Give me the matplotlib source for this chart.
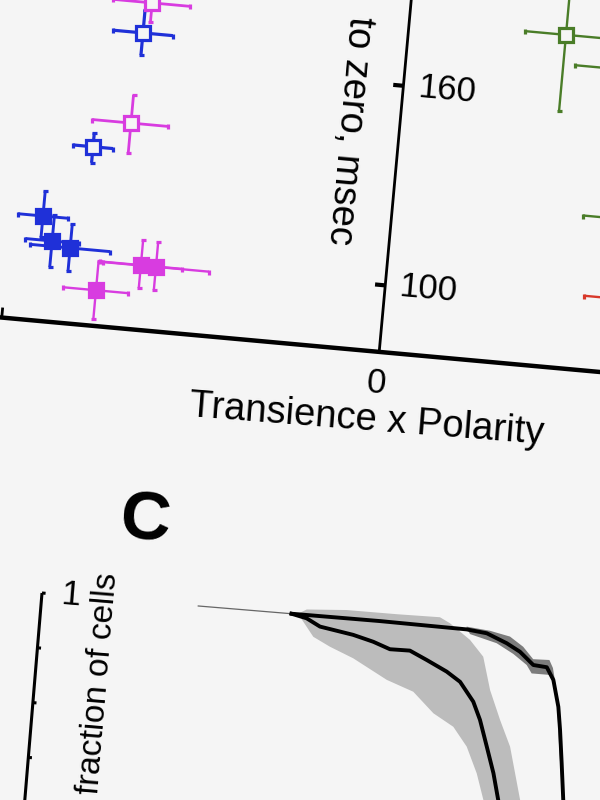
import matplotlib
matplotlib.use("Agg")
import matplotlib.pyplot as plt
from matplotlib.transforms import Affine2D

plt.rcParams['font.family'] = ['Liberation Sans', 'DejaVu Sans']

BG = "#f5f5f5"
BLUE = "#1f30d8"
MAGENTA = "#d83ce0"
GREEN = "#4a7d28"
RED = "#d8382a"

## panel B : transience x polarity vs time to zero (msec)
blue_open_x = [0.697, 0.801]
blue_open_y = [168.7, 133.4]
blue_open_xerr = [[0.079, 0.053], [0.079, 0.053]]
blue_open_yerr = [[6.6, 4.8], [6.9, 4.2]]

blue_fill_x = [0.916, 0.886, 0.837]
blue_fill_y = [111.4, 104.2, 102.6]
blue_fill_xerr = [[0.066, 0.071, 0.106], [0.066, 0.071, 0.106]]
blue_fill_yerr = [[6.3, 7.8, 6.9], [7.5, 7.8, 7.2]]

mag_open_x = [0.680, 0.707]
mag_open_y = [177.9, 141.5]
mag_open_xerr = [[0.100, 0.098], [0.103, 0.103]]
mag_open_yerr = [[5.7, 9.0], [8.4, 8.4]]

mag_fill_x = [0.759, 0.647, 0.607]
mag_fill_y = [90.7, 99.4, 99.3]
mag_fill_xerr = [[0.084, 0.108, 0.14], [0.087, 0.108, 0.14]]
mag_fill_yerr = [[8.7, 6.9, 6.9], [8.7, 7.5, 7.5]]

green_x = [-0.415, -0.587, -0.633]
green_y = [179.6, 170.8, 126.2]
green_xerr = [[0.108, 0.142, 0.13], [0.108, 0.142, 0.13]]
green_yerr = [[23, 10, 10], [23, 10, 10]]

red_x = [-0.652]
red_y = [102.3]
red_xerr = [[0.127], [0.127]]
red_yerr = [[8], [8]]

b_yticks = [100, 160]
b_xticks = [1]
b_xticklabels = ["0"]

## panel C : fraction of cells vs time
thin_t = [78.4, 125.2]
thin_f = [1.0, 1.0]

fast_t = [125.2, 132.9, 139.9, 156.8, 167.1, 175.7, 185.7, 194.5, 204.9, 212.0, 219.4, 223.5, 228.0, 232.4, 235.9, 239.0]
fast_f = [1.0, 0.988, 0.962, 0.942, 0.923, 0.901, 0.902, 0.873, 0.837, 0.804, 0.736, 0.672, 0.577, 0.483, 0.387, 0.30]
slow_t = [125.2, 169.5, 213.1, 223.3, 233.6, 240.6, 247.8, 254.6, 258.4, 262.0, 263.8, 266.0, 268.3, 271.0]
slow_f = [1.0, 1.0, 0.996, 0.988, 0.958, 0.931, 0.887, 0.883, 0.839, 0.743, 0.660, 0.539, 0.407, 0.30]

fast_hi_t = [128.0, 132.6, 152.5, 177.6, 199.3, 204.6, 215.2, 222.5, 227.3, 233.5, 239.6, 246.8, 250.0]
fast_hi_f = [1.0, 1.02, 1.03, 1.03, 1.032, 1.013, 0.959, 0.902, 0.783, 0.678, 0.584, 0.394, 0.28]
fast_lo_t = [128.0, 129.5, 137.0, 145.7, 157.8, 175.4, 189.1, 200.0, 210.5, 218.0, 224.1, 228.5, 232.0]
fast_lo_f = [1.0, 0.992, 0.923, 0.892, 0.857, 0.789, 0.754, 0.682, 0.639, 0.571, 0.477, 0.383, 0.28]

slow_hi_t = [213.0, 224.8, 235.0, 242.0, 247.5, 255.6, 257.7, 262.5, 265.0, 268.0, 271.5]
slow_hi_f = [1.006, 0.998, 0.983, 0.950, 0.908, 0.910, 0.882, 0.74, 0.60, 0.45, 0.30]
slow_lo_t = [213.0, 215.0, 228.6, 237.4, 244.5, 247.3, 256.5, 258.9, 261.5, 264.0, 267.0, 270.0]
slow_lo_f = [1.0, 0.980, 0.955, 0.921, 0.885, 0.856, 0.856, 0.821, 0.74, 0.60, 0.45, 0.30]

c_yticks = [1.0, 0.8, 0.6, 0.4, 0.2]


fig = plt.figure(figsize=(6, 8), dpi=100, facecolor=BG)
ax = fig.add_axes([0, 0, 1, 1])
ax.set_facecolor(BG)
ax.axis('off')

# the photographed page is mirrored and a bit tilted: one frame per panel
trB = Affine2D().translate(0, -80).scale(-379, -3.34).rotate_deg(5.2).translate(379.2, 351.9) + ax.transData
trC = Affine2D().translate(0, -1).scale(2.0, -275).rotate_deg(4.75).translate(42, 593) + ax.transData

## panel B
ax.plot([1.1, -0.75], [80, 80], color='k', lw=3.2, solid_capstyle='butt', transform=trB)
ax.plot([0, 0], [80, 200], color='k', lw=2.0, solid_capstyle='butt', transform=trB)
for v in b_yticks:
	ax.plot([0, 0.027], [v, v], color='k', lw=3, solid_capstyle='butt', transform=trB)
	ax.text(-0.115, v, str(v), fontsize=25, rotation=-5.2, ha='center', va='center',
		rotation_mode='anchor', transform=trB)
for v in b_xticks:
	ax.plot([v, v], [80, 83], color='k', lw=2, solid_capstyle='butt', transform=trB)
ax.text(0, 70.6, b_xticklabels[0], fontsize=25, rotation=-5.2, ha='center', va='center',
	rotation_mode='anchor', transform=trB)
ax.text(0.016, 59.4, "Transience x Polarity", fontsize=27.5, rotation=-4.5, ha='center', va='center',
	rotation_mode='anchor', transform=trB)
ax.text(0.132, 145.3, "to zero, msec", fontsize=27.5, rotation=-95.2, ha='center', va='center',
	rotation_mode='anchor', transform=trB)

def points(x, y, xerr, yerr, color, filled, lw):
	ax.errorbar(x, y, xerr=xerr, yerr=yerr, fmt='s', ms=10 if filled else 9.5,
		mfc=color if filled else BG, mec=color, mew=2.3, ecolor=color,
		elinewidth=lw, capsize=1.8, capthick=2.8, transform=trB, zorder=3)

points(green_x, green_y, green_xerr, green_yerr, GREEN, False, 1.7)
points(red_x, red_y, red_xerr, red_yerr, RED, False, 1.7)
points(mag_open_x, mag_open_y, mag_open_xerr, mag_open_yerr, MAGENTA, False, 2.0)
points(mag_fill_x, mag_fill_y, mag_fill_xerr, mag_fill_yerr, MAGENTA, True, 1.7)
points(blue_open_x, blue_open_y, blue_open_xerr, blue_open_yerr, BLUE, False, 2.3)
points(blue_fill_x, blue_fill_y, blue_fill_xerr, blue_fill_yerr, BLUE, True, 2.1)

## panel C
ax.text(48.4, 1.29, "C", fontsize=50, fontweight='bold', rotation=-4.75, ha='center', va='center',
	rotation_mode='anchor', transform=trC)
ax.plot([0, 0], [1.0, 0.1], color='k', lw=2.2, solid_capstyle='butt', transform=trC)
for v in c_yticks:
	ax.plot([0, 1.8], [v, v], color='k', lw=2.2, solid_capstyle='butt', transform=trC)
ax.text(14.6, 1.0, "1", fontsize=25, rotation=-4.75, ha='center', va='center',
	rotation_mode='anchor', transform=trC)
ax.text(32.0, 0.69, "fraction of cells", fontsize=24, rotation=85.25, ha='center', va='center',
	rotation_mode='anchor', transform=trC)

ax.fill(fast_hi_t + fast_lo_t[::-1], fast_hi_f + fast_lo_f[::-1], color="#bcbcbc", lw=0, transform=trC)
ax.fill(slow_hi_t + slow_lo_t[::-1], slow_hi_f + slow_lo_f[::-1], color="#7c7c7c", lw=0, transform=trC)
ax.plot(thin_t, thin_f, color="#666666", lw=0.9, transform=trC)
ax.plot(fast_t, fast_f, color='k', lw=2.8, transform=trC)
ax.plot(slow_t, slow_f, color='k', lw=2.8, transform=trC)

ax.set_xlim(0, 600)
ax.set_ylim(800, 0)
plt.savefig("out.png", dpi=100, facecolor=BG)
